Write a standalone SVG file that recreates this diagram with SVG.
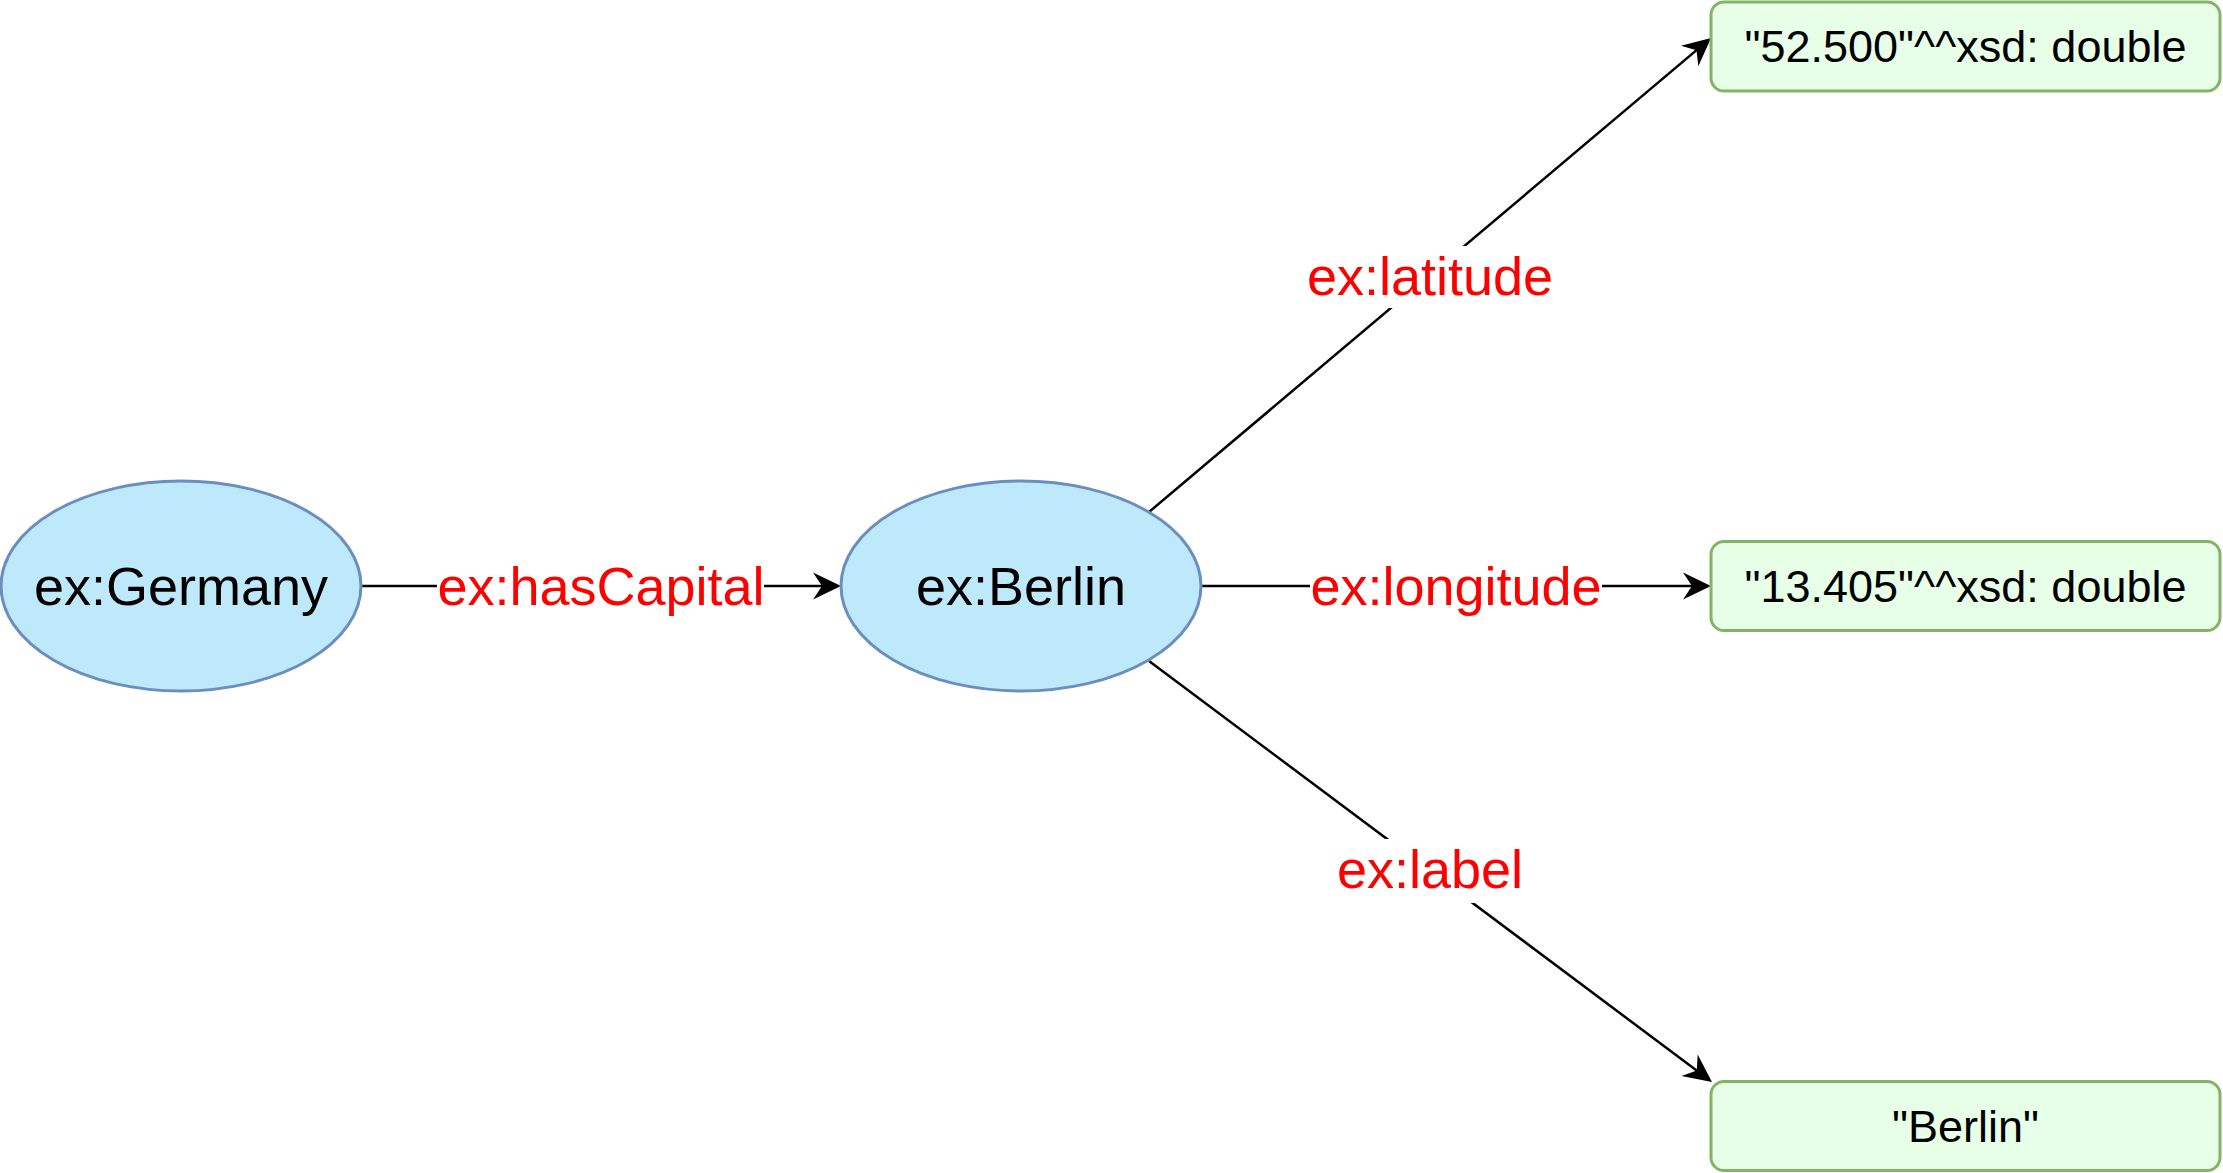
<svg xmlns="http://www.w3.org/2000/svg" width="2223" height="1173" viewBox="0 0 2223 1173">
<style>
.ell{fill:#BEE9FA;stroke:#6C8EBF;stroke-width:3}
.box{fill:#E6FFE6;stroke:#82B366;stroke-width:3}
.nt{font-family:"Liberation Sans",Arial,sans-serif;font-size:54px;fill:#000;text-anchor:middle}
.bt{font-family:"Liberation Sans",Arial,sans-serif;font-size:45px;fill:#000;text-anchor:middle}
.edge{stroke:#000;stroke-width:2.5;fill:none}
.lbl{font-family:"Liberation Sans",Arial,sans-serif;font-size:54px;fill:#FF0000;text-anchor:middle}
.lbg{fill:#FFFFFF}
</style>
<defs>
<marker id="arr" markerUnits="userSpaceOnUse" viewBox="-30 -15 32 30" markerWidth="32" markerHeight="30" refX="-10" refY="0" orient="auto">
<path d="M0,0 L-28,-13.5 L-19,0 L-28,13.5 Z" fill="#000"/>
</marker>
</defs>
<rect width="2223" height="1173" fill="#FFFFFF"/>
<g id="connectors">
<g id="e-hasCapital">
<line class="edge" x1="361" y1="586" x2="831" y2="586" marker-end="url(#arr)"/>
<rect class="lbg" x="437" y="555" width="327" height="62"/>
<text class="lbl" x="601" y="605">ex:hasCapital</text>
</g>
<g id="e-latitude">
<line class="edge" x1="1149" y1="512" x2="1703.4" y2="44.4" marker-end="url(#arr)"/>
<rect class="lbg" x="1306" y="246" width="248" height="62"/>
<text class="lbl" x="1430" y="295">ex:latitude</text>
</g>
<g id="e-longitude">
<line class="edge" x1="1201" y1="586" x2="1701" y2="586" marker-end="url(#arr)"/>
<rect class="lbg" x="1310" y="555" width="292" height="62"/>
<text class="lbl" x="1456" y="605">ex:longitude</text>
</g>
<g id="e-label">
<line class="edge" x1="1149" y1="661" x2="1704" y2="1076" marker-end="url(#arr)"/>
<rect class="lbg" x="1336" y="839" width="188" height="64"/>
<text class="lbl" x="1430" y="888">ex:label</text>
</g>
</g>
<g id="n-germany">
<ellipse class="ell" cx="181" cy="586" rx="180" ry="105"/>
<text class="nt" x="181" y="605">ex:Germany</text>
</g>
<g id="n-berlin">
<ellipse class="ell" cx="1021" cy="586" rx="180" ry="105"/>
<text class="nt" x="1021" y="605">ex:Berlin</text>
</g>
<g id="n-lat">
<rect class="box" x="1711" y="2" width="509" height="89" rx="13" ry="13"/>
<text class="bt" x="1965.5" y="62">"52.500"^^xsd: double</text>
</g>
<g id="n-lon">
<rect class="box" x="1711" y="541.5" width="509" height="89" rx="13" ry="13"/>
<text class="bt" x="1965.5" y="601.5">"13.405"^^xsd: double</text>
</g>
<g id="n-label">
<rect class="box" x="1711" y="1081.5" width="509" height="89" rx="13" ry="13"/>
<text class="bt" x="1965.5" y="1141.5">"Berlin"</text>
</g>
</svg>
